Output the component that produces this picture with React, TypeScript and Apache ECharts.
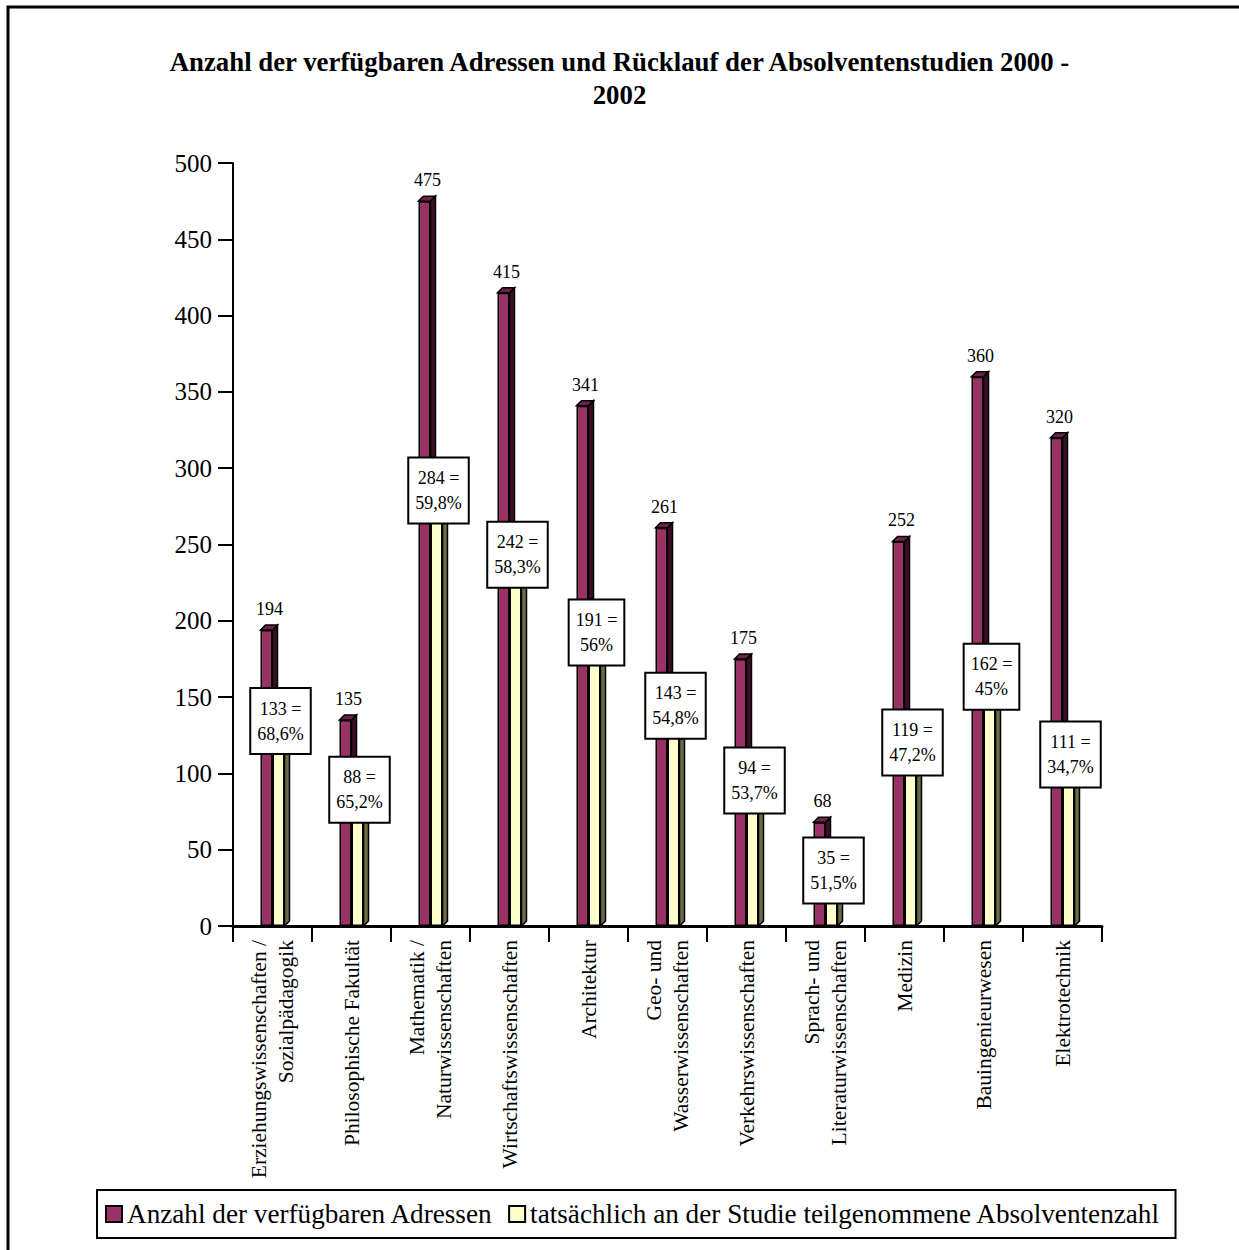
import React, { useEffect, useRef } from "react";
import * as echarts from "echarts";

const categories = [
  "Erziehungswissenschaften /\nSozialpädagogik",
  "Philosophische Fakultät",
  "Mathematik /\nNaturwissenschaften",
  "Wirtschaftswissenschaften",
  "Architektur",
  "Geo- und\nWasserwissenschaften",
  "Verkehrswissenschaften",
  "Sprach- und\nLiteraturwissenschaften",
  "Medizin",
  "Bauingenieurwesen",
  "Elektrotechnik",
];
const addresses = [194, 135, 475, 415, 341, 261, 175, 68, 252, 360, 320];
const participants = [133, 88, 284, 242, 191, 143, 94, 35, 119, 162, 111];
const participantPct = ["68,6%", "65,2%", "59,8%", "58,3%", "56%", "54,8%", "53,7%", "51,5%", "47,2%", "45%", "34,7%"];
const yTicks = { min: 0, max: 500, interval: 50 };

const SERIES_A = "Anzahl der verfügbaren Adressen";
const SERIES_B = "tatsächlich an der Studie teilgenommene Absolventenzahl";
const TITLE = "Anzahl der verfügbaren Adressen und Rücklauf der Absolventenstudien 2000 -\n2002";

const FONT = "'Times New Roman', 'Liberation Serif', serif";
const BW = 12;
const D = 5;

function extrude(side: "left" | "right", sideColor: string, topColor: string) {
  return (params: any, api: any) => {
    const idx = api.value(0);
    const v = api.value(1);
    const top = api.coord([idx, v]);
    const base = api.coord([idx, 0]);
    const x0 = side === "left" ? top[0] - BW : top[0];
    const x1 = x0 + BW;
    const y = top[1];
    const yb = base[1];
    return {
      type: "group",
      children: [
        {
          type: "polygon",
          shape: { points: [[x1, y], [x1 + D, y - D], [x1 + D, yb - D], [x1, yb]] },
          style: { fill: sideColor, stroke: "#000", lineWidth: 1.5 },
        },
        {
          type: "polygon",
          shape: { points: [[x0, y], [x0 + D, y - D], [x1 + D, y - D], [x1, y]] },
          style: { fill: topColor, stroke: "#000", lineWidth: 1.5 },
        },
      ],
    };
  };
}

export default function App() {
  const ref = useRef<HTMLDivElement>(null);
  useEffect(() => {
    document.body.style.margin = "0";
    if (!ref.current) return;
    const chart = echarts.init(ref.current, undefined, { renderer: "svg" });
    chart.setOption({
      animation: false,
      backgroundColor: "#fff",
      textStyle: { fontFamily: FONT, color: "#000" },
      title: {
        text: TITLE,
        left: "center",
        top: 40,
        textStyle: { fontFamily: FONT, fontSize: 26.8, fontWeight: "bold", lineHeight: 33, color: "#000" },
      },
      graphic: [
        {
          type: "rect",
          shape: { x: 8, y: 7, width: 1300, height: 1300 },
          style: { fill: "none", stroke: "#000", lineWidth: 3 },
          silent: true,
        },
      ],
      legend: {
        data: [SERIES_A, SERIES_B],
        left: 97,
        top: 1190,
        orient: "horizontal",
        padding: [10, 15, 10, 8],
        borderColor: "#000",
        borderWidth: 2,
        itemWidth: 16,
        itemHeight: 16,
        itemGap: 15,
        icon: "rect",
        textStyle: { fontFamily: FONT, fontSize: 27.2, lineHeight: 28, color: "#000" },
      },
      grid: { left: 233, right: 137, top: 163, bottom: 324, containLabel: false },
      xAxis: {
        type: "category",
        data: categories,
        axisLine: { show: true, lineStyle: { color: "#000", width: 3 } },
        axisTick: { show: true, interval: 0, length: 16, lineStyle: { color: "#000", width: 2 } },
        axisLabel: {
          interval: 0,
          rotate: 90,
          margin: 14,
          fontFamily: FONT,
          fontSize: 21.5,
          lineHeight: 27,
          color: "#000",
        },
        splitLine: { show: false },
      },
      yAxis: {
        type: "value",
        min: yTicks.min,
        max: yTicks.max,
        interval: yTicks.interval,
        axisLine: { show: true, lineStyle: { color: "#000", width: 2 } },
        axisTick: { show: true, length: 15, lineStyle: { color: "#000", width: 2 } },
        axisLabel: { margin: 21, fontFamily: FONT, fontSize: 25, color: "#000" },
        splitLine: { show: false },
      },
      series: [
        {
          name: "extA",
          type: "custom",
          z: 1,
          data: addresses.map((v, i) => [i, v]),
          encode: { x: 0, y: 1 },
          renderItem: extrude("left", "#3d0f27", "#6e2248"),
          silent: true,
        },
        {
          name: "extB",
          type: "custom",
          z: 2,
          data: participants.map((v, i) => [i, v]),
          encode: { x: 0, y: 1 },
          renderItem: extrude("right", "#6b6b45", "#d9d9a6"),
          silent: true,
        },
        {
          name: SERIES_A,
          type: "bar",
          z: 3,
          data: addresses,
          barWidth: BW,
          barGap: "0%",
          itemStyle: { color: "#993366", borderColor: "#000", borderWidth: 1.5 },
          label: {
            show: true,
            position: "top",
            distance: 9,
            offset: [3, -3],
            fontFamily: FONT,
            fontSize: 18,
            color: "#000",
          },
        },
        {
          name: SERIES_B,
          type: "bar",
          z: 4,
          data: participants,
          barWidth: BW,
          barGap: "0%",
          itemStyle: { color: "#FFFFCC", borderColor: "#000", borderWidth: 1.5 },
          label: {
            show: true,
            position: ["50%", 0],
            align: "center",
            verticalAlign: "middle",
            offset: [2, -2],
            formatter: (p: any) => `${participants[p.dataIndex]} =\n${participantPct[p.dataIndex]}`,
            fontFamily: FONT,
            fontSize: 18,
            lineHeight: 25,
            color: "#000",
            backgroundColor: "#fff",
            borderColor: "#000",
            borderWidth: 2,
            padding: [7, 6, 7, 6],
          },
        },
      ],
    });
    return () => chart.dispose();
  }, []);
  return <div ref={ref} style={{ width: 1239, height: 1250 }} />;
}
